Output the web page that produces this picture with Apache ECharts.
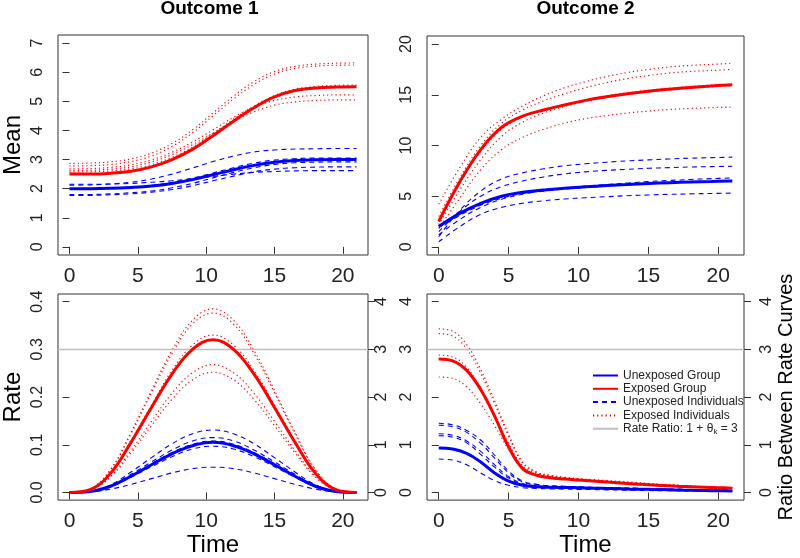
<!DOCTYPE html>
<html><head><meta charset="utf-8">
<script src="https://cdn.jsdelivr.net/npm/echarts@6/dist/echarts.min.js"></script>
<style>html,body{margin:0;padding:0;background:#fff}#c{width:800px;height:558px}</style>
</head><body><div id="c"></div>
<script>
// ---------- data ----------
const T15 = [0, 1.5, 3, 4.5, 6, 7.5, 9, 10.5, 12, 13.5, 15, 16.5, 18, 19.5, 21];
const T22 = [0, 1, 2, 3, 4, 5, 6, 7, 8, 9, 10, 11, 12, 13, 14, 15, 16, 17, 18, 19, 20, 21];
const xTicks = [0, 5, 10, 15, 20];
const titles = ['Outcome 1', 'Outcome 2'];

// Outcome 1 - mean
const mean1UnexpGroup = [2.00, 2.00, 2.01, 2.04, 2.09, 2.18, 2.31, 2.48, 2.65, 2.80, 2.91, 2.97, 2.99, 3.00, 3.00];
const mean1ExpGroup = [2.50, 2.50, 2.53, 2.60, 2.75, 3.00, 3.35, 3.82, 4.32, 4.78, 5.15, 5.37, 5.46, 5.49, 5.50];
const mean1UnexpInd = [
  [2.12, 2.13, 2.16, 2.22, 2.33, 2.50, 2.71, 2.93, 3.12, 3.26, 3.33, 3.36, 3.37, 3.38, 3.38],
  [2.15, 2.15, 2.16, 2.18, 2.22, 2.27, 2.34, 2.42, 2.50, 2.56, 2.59, 2.61, 2.62, 2.62, 2.62],
  [1.80, 1.80, 1.82, 1.86, 1.92, 2.03, 2.18, 2.37, 2.56, 2.72, 2.83, 2.89, 2.91, 2.92, 2.92],
  [1.77, 1.77, 1.79, 1.82, 1.88, 1.97, 2.10, 2.27, 2.43, 2.58, 2.67, 2.72, 2.74, 2.75, 2.75],
  [2.00, 2.00, 2.02, 2.05, 2.11, 2.21, 2.36, 2.54, 2.72, 2.88, 2.98, 3.03, 3.05, 3.05, 3.05]
];
const mean1ExpInd = [
  [2.87, 2.88, 2.92, 3.02, 3.22, 3.55, 4.02, 4.60, 5.18, 5.68, 6.02, 6.20, 6.28, 6.31, 6.32],
  [2.78, 2.79, 2.83, 2.93, 3.12, 3.45, 3.92, 4.50, 5.08, 5.58, 5.94, 6.13, 6.21, 6.24, 6.25],
  [2.57, 2.58, 2.61, 2.68, 2.83, 3.08, 3.43, 3.90, 4.39, 4.84, 5.20, 5.42, 5.51, 5.55, 5.56],
  [2.68, 2.69, 2.73, 2.82, 2.99, 3.25, 3.60, 4.02, 4.45, 4.80, 5.03, 5.15, 5.20, 5.22, 5.22],
  [2.62, 2.63, 2.67, 2.75, 2.92, 3.17, 3.51, 3.91, 4.31, 4.64, 4.87, 4.98, 5.03, 5.05, 5.05]
];

// Outcome 2 - mean
const mean2UnexpGroup = [2.0, 3.3, 4.3, 5.0, 5.4, 5.6, 5.78, 5.92, 6.05, 6.15, 6.25, 6.33, 6.4, 6.45, 6.5];
const mean2ExpGroup = [2.5, 6.4, 9.6, 11.8, 12.9, 13.5, 14.0, 14.45, 14.8, 15.1, 15.35, 15.55, 15.72, 15.87, 16.0];
const mean2UnexpInd = [
  [1.0, 3.6, 5.5, 6.7, 7.3, 7.7, 8.0, 8.2, 8.35, 8.48, 8.58, 8.67, 8.75, 8.8, 8.85],
  [1.5, 3.5, 5.0, 5.95, 6.5, 6.9, 7.2, 7.4, 7.55, 7.65, 7.75, 7.82, 7.88, 7.92, 7.95],
  [1.2, 2.7, 3.9, 4.7, 5.2, 5.55, 5.8, 6.0, 6.15, 6.3, 6.45, 6.55, 6.65, 6.73, 6.8],
  [1.9, 3.1, 4.1, 4.8, 5.25, 5.5, 5.7, 5.85, 6.0, 6.12, 6.22, 6.3, 6.38, 6.45, 6.5],
  [0.5, 2.0, 3.2, 3.9, 4.3, 4.55, 4.72, 4.85, 4.95, 5.05, 5.12, 5.18, 5.23, 5.27, 5.3]
];
const mean2ExpInd = [
  [4.2, 7.8, 10.8, 12.6, 13.9, 14.9, 15.7, 16.3, 16.8, 17.2, 17.5, 17.75, 17.9, 18.0, 18.1],
  [3.0, 6.8, 10.0, 12.2, 13.5, 14.4, 15.1, 15.7, 16.2, 16.6, 16.9, 17.15, 17.3, 17.4, 17.5],
  [2.6, 6.3, 9.4, 11.6, 12.8, 13.5, 14.05, 14.5, 14.9, 15.2, 15.45, 15.65, 15.82, 15.95, 16.05],
  [2.2, 5.6, 8.6, 10.9, 12.3, 13.2, 13.85, 14.35, 14.75, 15.05, 15.3, 15.5, 15.68, 15.8, 15.9],
  [1.8, 4.8, 7.6, 9.6, 10.8, 11.6, 12.2, 12.65, 12.95, 13.2, 13.4, 13.55, 13.65, 13.73, 13.8]
];

// Outcome 1 - rate
const rate1UnexpGroup = [0, 0.002, 0.013, 0.034, 0.058, 0.081, 0.098, 0.105, 0.098, 0.081, 0.058, 0.034, 0.013, 0.002, 0];
const rate1ExpGroup = [0, 0.006, 0.040, 0.105, 0.178, 0.248, 0.300, 0.320, 0.300, 0.248, 0.178, 0.105, 0.040, 0.006, 0];
const rate1UnexpInd = [
  [0, 0.002, 0.016, 0.043, 0.073, 0.102, 0.123, 0.131, 0.123, 0.102, 0.073, 0.043, 0.016, 0.002, 0],
  [0, 0.001, 0.007, 0.017, 0.029, 0.041, 0.050, 0.053, 0.050, 0.041, 0.029, 0.017, 0.007, 0.001, 0],
  [0, 0.002, 0.014, 0.038, 0.064, 0.089, 0.108, 0.115, 0.108, 0.089, 0.064, 0.038, 0.014, 0.002, 0],
  [0, 0.002, 0.012, 0.032, 0.054, 0.075, 0.091, 0.097, 0.091, 0.075, 0.054, 0.032, 0.012, 0.002, 0],
  [0, 0.002, 0.014, 0.035, 0.060, 0.084, 0.101, 0.108, 0.101, 0.084, 0.060, 0.035, 0.014, 0.002, 0]
];
const rate1ExpInd = [
  [0, 0.007, 0.048, 0.126, 0.214, 0.298, 0.361, 0.385, 0.361, 0.298, 0.214, 0.126, 0.048, 0.007, 0],
  [0, 0.007, 0.047, 0.123, 0.209, 0.291, 0.353, 0.376, 0.353, 0.291, 0.209, 0.123, 0.047, 0.007, 0],
  [0, 0.006, 0.041, 0.108, 0.183, 0.256, 0.309, 0.330, 0.309, 0.256, 0.183, 0.108, 0.041, 0.006, 0],
  [0, 0.005, 0.034, 0.088, 0.149, 0.208, 0.251, 0.268, 0.251, 0.208, 0.149, 0.088, 0.034, 0.005, 0],
  [0, 0.005, 0.032, 0.083, 0.140, 0.195, 0.236, 0.252, 0.236, 0.195, 0.140, 0.083, 0.032, 0.005, 0]
];

// Outcome 2 - rate (T22)
const rate2UnexpGroup = [0.93, 0.91, 0.82, 0.64, 0.41, 0.24, 0.15, 0.12, 0.11, 0.105, 0.10, 0.09, 0.085, 0.08, 0.07, 0.065, 0.06, 0.05, 0.045, 0.04, 0.035, 0.03];
const rate2ExpGroup = [2.80, 2.76, 2.56, 2.16, 1.60, 0.95, 0.50, 0.36, 0.31, 0.28, 0.26, 0.24, 0.22, 0.20, 0.18, 0.16, 0.145, 0.13, 0.12, 0.11, 0.10, 0.09];
const rate2UnexpInd = [
  [1.45, 1.42, 1.30, 1.10, 0.78, 0.45, 0.24, 0.17, 0.14, 0.13, 0.12, 0.11, 0.10, 0.095, 0.09, 0.08, 0.075, 0.07, 0.06, 0.055, 0.05, 0.045],
  [1.41, 1.38, 1.26, 1.03, 0.72, 0.41, 0.22, 0.16, 0.135, 0.125, 0.115, 0.105, 0.10, 0.09, 0.085, 0.08, 0.07, 0.065, 0.06, 0.055, 0.05, 0.045],
  [1.23, 1.20, 1.08, 0.86, 0.58, 0.33, 0.19, 0.14, 0.12, 0.11, 0.10, 0.095, 0.09, 0.085, 0.08, 0.07, 0.065, 0.06, 0.055, 0.05, 0.045, 0.04],
  [1.19, 1.16, 1.04, 0.80, 0.53, 0.30, 0.17, 0.13, 0.115, 0.105, 0.10, 0.09, 0.085, 0.08, 0.075, 0.07, 0.06, 0.055, 0.05, 0.045, 0.04, 0.035],
  [0.70, 0.68, 0.58, 0.41, 0.25, 0.15, 0.10, 0.085, 0.075, 0.07, 0.065, 0.06, 0.055, 0.05, 0.045, 0.04, 0.038, 0.035, 0.03, 0.028, 0.025, 0.02]
];
const rate2ExpInd = [
  [3.43, 3.38, 3.10, 2.58, 1.92, 1.22, 0.64, 0.43, 0.36, 0.32, 0.29, 0.27, 0.25, 0.23, 0.21, 0.19, 0.17, 0.15, 0.135, 0.12, 0.11, 0.10],
  [3.33, 3.28, 3.01, 2.50, 1.86, 1.18, 0.62, 0.42, 0.35, 0.31, 0.28, 0.26, 0.24, 0.22, 0.20, 0.18, 0.165, 0.15, 0.13, 0.12, 0.11, 0.10],
  [2.88, 2.84, 2.62, 2.19, 1.62, 1.03, 0.56, 0.40, 0.34, 0.30, 0.27, 0.25, 0.23, 0.21, 0.19, 0.17, 0.155, 0.14, 0.125, 0.115, 0.105, 0.095],
  [2.42, 2.39, 2.21, 1.86, 1.40, 0.90, 0.50, 0.37, 0.32, 0.29, 0.26, 0.24, 0.22, 0.20, 0.18, 0.165, 0.15, 0.135, 0.12, 0.11, 0.10, 0.09],
  [2.80, 2.76, 2.55, 2.14, 1.58, 0.98, 0.53, 0.38, 0.32, 0.29, 0.265, 0.245, 0.225, 0.205, 0.185, 0.165, 0.15, 0.135, 0.12, 0.11, 0.10, 0.09]
];

const rateRatio = 3;
const mean1Ticks = [0, 1, 2, 3, 4, 5, 6, 7];
const mean2Ticks = [0, 5, 10, 15, 20];
const rate1Ticks = [0, 0.1, 0.2, 0.3, 0.4];
const ratioTicks = [0, 1, 2, 3, 4];

// ---------- style ----------
const FONT = "'Liberation Sans', Arial, Helvetica, sans-serif";
const BLUE = '#0000FF', RED = '#FF0000', GRAY = '#BEBEBE', INK = '#222';
const N_UG = 'Unexposed Group', N_EG = 'Exposed Group', N_UI = 'Unexposed Individuals', N_EI = 'Exposed Individuals', N_RR = 'Rate Ratio';

function pts(ts, vs) { return ts.map((t, i) => [t, vs[i]]); }
function ser(name, xi, yi, ts, vs, kind) {
  const color = (name === N_UG || name === N_UI) ? BLUE : RED;
  const ls = kind === 'group' ? { color, width: 3, type: 'solid' }
    : kind === 'dash' ? { color, width: 1.1, type: [5, 4] }
    : { color, width: 1.2, type: [1.2, 3] };
  return { name, type: 'line', xAxisIndex: xi, yAxisIndex: yi, data: pts(ts, vs),
    symbol: 'none', showSymbol: false, smooth: 0.4,
    lineStyle: ls, itemStyle: { color }, z: kind === 'group' ? 5 : 3, silent: true };
}
function panelSeries(xi, yi, ts, ug, eg, ui, ei) {
  const out = [];
  ui.forEach(v => out.push(ser(N_UI, xi, yi, ts, v, 'dash')));
  ei.forEach(v => out.push(ser(N_EI, xi, yi, ts, v, 'dot')));
  out.push(ser(N_UG, xi, yi, ts, ug, 'group'));
  out.push(ser(N_EG, xi, yi, ts, eg, 'group'));
  return out;
}
function ratioLine(xi, yi) {
  return { name: N_RR, type: 'line', xAxisIndex: xi, yAxisIndex: yi, data: [], symbol: 'none',
    lineStyle: { color: GRAY, width: 1.5 }, itemStyle: { color: GRAY }, silent: true, z: 1,
    markLine: { silent: true, symbol: ['none', 'none'], label: { show: false },
      lineStyle: { color: GRAY, width: 1.3, type: 'solid' }, data: [{ yAxis: rateRatio }] } };
}

const grids = [
  { left: 51, top: 35, width: 317, height: 220 },
  { left: 427, top: 36, width: 317, height: 219 },
  { left: 51, top: 294, width: 317, height: 218 },
  { left: 427, top: 294, width: 317, height: 218 }
].map(g => Object.assign(g, { show: true, borderColor: '#333', borderWidth: 1, containLabel: false }));

function xAx(gi, withName) {
  return { type: 'value', gridIndex: gi, min: -0.84, max: 21.84,
    axisLine: { show: false }, splitLine: { show: false },
    axisTick: { show: true, length: 7, customValues: xTicks, lineStyle: { color: '#333' } },
    axisLabel: { customValues: xTicks, fontSize: 21, color: INK, fontFamily: FONT, margin: 11 },
    name: withName ? 'Time' : '', nameLocation: 'middle', nameGap: 27,
    nameTextStyle: { fontSize: 24, color: '#000', fontFamily: FONT } };
}
function yAx(gi, min, max, ticks, opts) {
  opts = opts || {};
  return { type: 'value', gridIndex: gi, min, max, position: opts.right ? 'right' : 'left',
    axisLine: { show: false }, splitLine: { show: false },
    axisTick: { show: true, length: 7, customValues: ticks, lineStyle: { color: '#333' } },
    axisLabel: { customValues: ticks, rotate: 90, fontSize: 16, color: INK, fontFamily: FONT,
      margin: opts.margin != null ? opts.margin : 12, formatter: opts.fmt || (v => String(v)) },
    name: opts.name || '', nameLocation: 'middle', nameRotate: 90, nameGap: opts.nameGap || 33,
    nameTextStyle: { fontSize: opts.nameSize || 24, color: '#000', fontFamily: FONT } };
}

const option = {
  animation: false,
  backgroundColor: '#fff',
  title: [
    { text: titles[0], left: 209.5, textAlign: 'center', top: -1, padding: 0,
      textStyle: { fontSize: 19, fontWeight: 'bold', color: '#000', fontFamily: FONT } },
    { text: titles[1], left: 585.5, textAlign: 'center', top: -1, padding: 0,
      textStyle: { fontSize: 19, fontWeight: 'bold', color: '#000', fontFamily: FONT } }
  ],
  grid: grids,
  xAxis: [xAx(0, false), xAx(1, false), xAx(2, true), xAx(3, true)],
  yAxis: [
    yAx(0, -0.28, 7.28, mean1Ticks, { name: 'Mean' }),
    yAx(1, -0.8, 20.8, mean2Ticks, {}),
    yAx(2, -0.016, 0.416, rate1Ticks, { name: 'Rate', fmt: v => v.toFixed(1) }),
    yAx(2, -0.16, 4.16, ratioTicks, { right: true, margin: 6 }),
    yAx(3, -0.16, 4.16, ratioTicks, {}),
    yAx(3, -0.16, 4.16, ratioTicks, { right: true, margin: 15, name: 'Ratio Between Rate Curves', nameSize: 20, nameGap: 32 })
  ],
  legend: {
    show: true, orient: 'vertical', left: 592, top: 369.5,
    data: [N_UG, N_EG, N_UI, N_EI, N_RR],
    itemWidth: 25, itemHeight: 10, itemGap: 1.3, padding: 0,
    itemStyle: { opacity: 0, color: 'rgba(0,0,0,0)', borderWidth: 0 },
    textStyle: { fontSize: 12, color: INK, fontFamily: FONT, lineHeight: 12,
      rich: { a: { fontSize: 12, color: INK, fontFamily: FONT }, s: { fontSize: 8, color: INK, fontFamily: FONT, padding: [6, 0, 0, 0] } } },
    formatter: n => n === N_RR ? '{a|Rate Ratio: 1 + θ}{s|k}{a| = 3}' : n,
    selectedMode: false
  },
  series: [].concat(
    panelSeries(0, 0, T15, mean1UnexpGroup, mean1ExpGroup, mean1UnexpInd, mean1ExpInd),
    panelSeries(1, 1, T15, mean2UnexpGroup, mean2ExpGroup, mean2UnexpInd, mean2ExpInd),
    [ratioLine(2, 3)],
    panelSeries(2, 2, T15, rate1UnexpGroup, rate1ExpGroup, rate1UnexpInd, rate1ExpInd),
    [ratioLine(3, 5)],
    panelSeries(3, 4, T22, rate2UnexpGroup, rate2ExpGroup, rate2UnexpInd, rate2ExpInd)
  )
};
const chart = echarts.init(document.getElementById('c'), null, { renderer: 'canvas' });
chart.setOption(option);
</script></body></html>
